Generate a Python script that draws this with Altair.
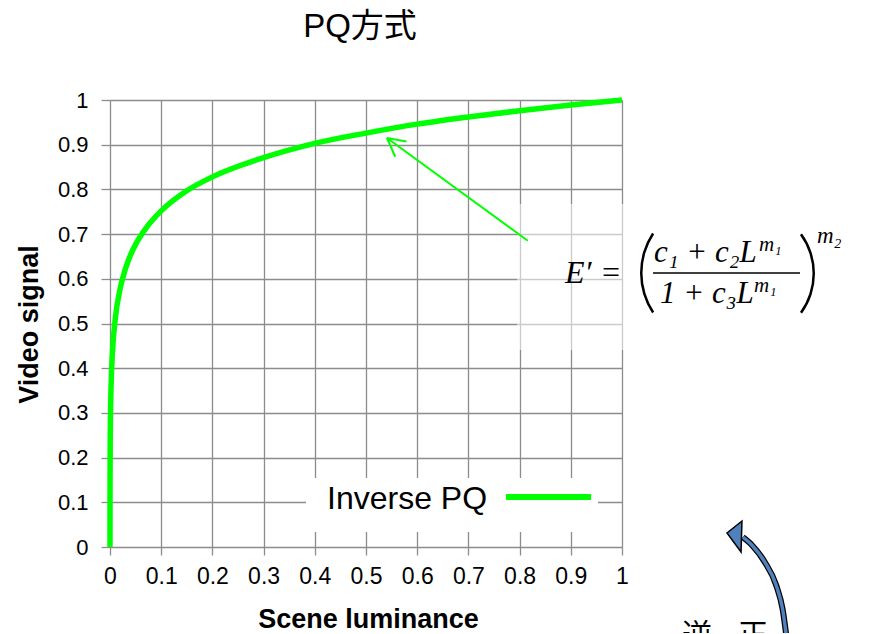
import altair as alt
import pandas as pd

# ---------------- data ----------------
title_text = "PQ方式"
x_title = "Scene luminance"
y_title = "Video signal"
series_name = "Inverse PQ"
tick_values = [0, 0.1, 0.2, 0.3, 0.4, 0.5, 0.6, 0.7, 0.8, 0.9, 1]

lum = [0, 0.00001, 0.0001, 0.0005, 0.001, 0.002, 0.003, 0.005, 0.01, 0.02,
       0.03, 0.04, 0.05, 0.07, 0.1, 0.15, 0.2, 0.3, 0.4, 0.5, 0.6, 0.7,
       0.8, 0.9, 1.0]
sig = [0, 0.062, 0.150, 0.248, 0.300, 0.357, 0.393, 0.440, 0.508, 0.579,
       0.622, 0.653, 0.677, 0.713, 0.752, 0.797, 0.828, 0.871, 0.903, 0.926,
       0.946, 0.962, 0.976, 0.989, 1.0]

# pointer arrow (thin green) in data units
arrow_x1 = [0.816, 0.541, 0.541]
arrow_y1 = [0.685, 0.915, 0.915]
arrow_x2 = [0.541, 0.579, 0.557]
arrow_y2 = [0.915, 0.907, 0.873]

# blue curved arrow shaft (bottom right), data units
blue_x = [1.322, 1.314, 1.301, 1.279, 1.254, 1.236]
blue_y = [-0.208, -0.141, -0.085, -0.034, 0.004, 0.022]

GREEN = "#00ff00"
GRID = "#8c8c8c"
SANS = "Liberation Sans, Arial, Noto Sans CJK JP"
SERIF = "Liberation Serif, DejaVu Serif"
CJK = "Noto Sans CJK JP"

curve_df = pd.DataFrame({"L": lum, "E": sig})
arrow_df = pd.DataFrame({"L": arrow_x1, "E": arrow_y1, "L2": arrow_x2, "E2": arrow_y2})
blue_df = pd.DataFrame({"L": blue_x, "E": blue_y, "i": list(range(len(blue_x)))})
one = pd.DataFrame({"a": [0]})

x_scale = alt.Scale(domain=[0, 1], nice=False, zero=False)
y_scale = alt.Scale(domain=[0, 1], nice=False, zero=False)

x_axis = alt.Axis(
    values=tick_values, format=".1~f", labelFlush=False, labelOverlap=False,
    labelBound=False, labelFont=SANS, labelFontSize=23, labelColor="black",
    labelPadding=10, tickSize=8, tickColor=GRID, tickWidth=1.3,
    gridColor=GRID, gridWidth=1.3, gridOpacity=1, domain=False,
    title=x_title, titleFont=SANS, titleFontSize=27, titleFontWeight="bold",
    titleColor="black", titleX=258, titleY=80, titleAlign="center",
    titleBaseline="alphabetic",
)
y_axis = alt.Axis(
    values=tick_values, format=".1~f", labelFlush=False, labelOverlap=False,
    labelBound=False, labelFont=SANS, labelFontSize=22, labelColor="black",
    labelPadding=13, tickSize=9, tickColor=GRID, tickWidth=1.3,
    gridColor=GRID, gridWidth=1.3, gridOpacity=1, domain=False,
    title=y_title, titleFont=SANS, titleFontSize=27, titleFontWeight="bold",
    titleColor="black", titleX=-73, titleY=224, titleAngle=270,
    titleAlign="center", titleBaseline="alphabetic",
)

X = alt.X("L:Q", scale=x_scale, axis=x_axis)
Y = alt.Y("E:Q", scale=y_scale, axis=y_axis)

curve = alt.Chart(curve_df).mark_line(
    color=GREEN, strokeWidth=5.5, interpolate="monotone"
).encode(x=X, y=Y)

# translucent white panel behind the formula
formula_box = alt.Chart(one).mark_rect(fill="white", opacity=0.55).encode(
    x=alt.value(407), x2=alt.value(745), y=alt.value(104), y2=alt.value(250))

# legend
legend_box = alt.Chart(one).mark_rect(fill="white").encode(
    x=alt.value(196), x2=alt.value(488), y=alt.value(378), y2=alt.value(432))
legend_text = alt.Chart(one).mark_text(
    text=series_name, font=SANS, fontSize=32, align="left",
    baseline="alphabetic", color="black").encode(x=alt.value(217), y=alt.value(409))
legend_line = alt.Chart(one).mark_rule(color=GREEN, strokeWidth=6).encode(
    x=alt.value(396), x2=alt.value(481), y=alt.value(397))

# green pointer arrow
arrow = alt.Chart(arrow_df).mark_rule(color=GREEN, strokeWidth=2).encode(
    x=X, y=Y, x2="L2:Q", y2="E2:Q")

# formula E' = ((c1 + c2 L^m1)/(1 + c3 L^m1))^m2
def txt(s, x, y, size, italic=True):
    return alt.Chart(one).mark_text(
        text=s, font=SERIF, fontSize=size, fontStyle="italic" if italic else "normal",
        align="left", baseline="alphabetic", color="black"
    ).encode(x=alt.value(x), y=alt.value(y))

f_e = txt("E′", 455, 183, 32)
f_eq = txt("=", 492, 183, 32, italic=False)
f_num = txt("c₁ + c₂L", 544, 162, 31)
f_num_sup = txt("m₁", 649, 151, 21)
f_den = txt("1 + c₃L", 550, 203, 31)
f_den_sup = txt("m₁", 644, 192, 21)
f_pow = txt("m₂", 707, 143, 23)
f_bar = alt.Chart(one).mark_rule(color="black", strokeWidth=1.6).encode(
    x=alt.value(543), x2=alt.value(690), y=alt.value(173))
f_lpar = alt.Chart(one).mark_arc(
    theta=4.129, theta2=5.295, radius=73, radius2=70.5, color="black"
).encode(x=alt.value(603), y=alt.value(173))
f_rpar = alt.Chart(one).mark_arc(
    theta=0.942, theta2=2.199, radius=68, radius2=65.5, color="black"
).encode(x=alt.value(637), y=alt.value(173.5))

# blue curved arrow at the bottom right
blue_outline = alt.Chart(blue_df).mark_line(
    color="black", strokeWidth=6, interpolate="monotone").encode(
    x=X, y=Y, order="i:Q")
blue_fill = alt.Chart(blue_df).mark_line(
    color="#4f81bd", strokeWidth=3.5, interpolate="monotone").encode(
    x=X, y=Y, order="i:Q")
blue_head = alt.Chart(one).mark_point(
    shape="M -0.67 -0.2 L 0.33 -1 L 0.27 1.07 Z", size=900, filled=True,
    fill="#4f81bd", stroke="black", strokeWidth=1.5, opacity=1
).encode(x=alt.value(627), y=alt.value(436))
cjk1 = alt.Chart(one).mark_text(text="逆", font=CJK, fontSize=30, align="center",
                                baseline="alphabetic", color="black").encode(
    x=alt.value(587), y=alt.value(545))
cjk2 = alt.Chart(one).mark_text(text="正", font=CJK, fontSize=30, align="center",
                                baseline="alphabetic", color="black").encode(
    x=alt.value(643), y=alt.value(545))

title = alt.Chart(one).mark_text(
    text=title_text, font=SANS, fontSize=33, align="center",
    baseline="alphabetic", color="black").encode(x=alt.value(250), y=alt.value(-63))

chart = alt.layer(
    curve, formula_box, legend_box, legend_text, legend_line, arrow,
    f_e, f_eq, f_num, f_num_sup, f_den, f_den_sup, f_pow, f_bar, f_lpar, f_rpar,
    blue_outline, blue_fill, blue_head, cjk1, cjk2, title
).properties(
    width=512, height=447,
    autosize=alt.AutoSizeParams(type="none"),
    padding={"left": 102, "top": 92, "right": 240, "bottom": 86},
).configure_view(stroke=None).configure(background="white")

chart.save("out.html", embed_options={"renderer": "svg", "actions": False})
